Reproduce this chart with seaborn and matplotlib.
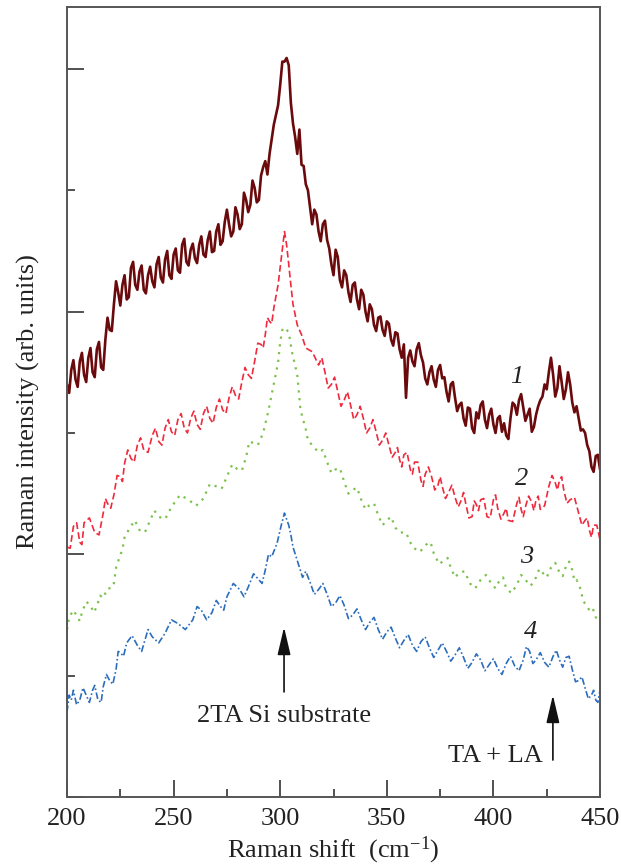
# Raman spectra, four samples, offset vertically
import numpy as np
import pandas as pd
import matplotlib
matplotlib.use("Agg")
import matplotlib.pyplot as plt
from matplotlib.ticker import MultipleLocator
import seaborn as sns

sns.set_style("ticks")
plt.rcParams['font.family'] = ['Liberation Serif', 'DejaVu Serif']
plt.rcParams['mathtext.fontset'] = 'custom'
plt.rcParams['mathtext.rm'] = 'Liberation Serif'
plt.rcParams['mathtext.it'] = 'Liberation Serif:italic'

# curve 1 (solid) - main readings
x1 = [200, 202, 204, 206, 208, 210, 212, 214, 216, 218, 220, 222, 224, 226, 228, 230, 232, 234, 236, 238,
      240, 242, 244, 246, 248, 250, 252, 254, 256, 258, 260, 262, 264, 266, 268, 270, 272, 274, 276, 278,
      280, 282, 284, 286, 288, 290, 292, 294, 296, 298, 300, 301, 302, 303, 304, 305, 307, 309, 310, 312,
      314, 316, 318, 320, 322, 324, 326, 328, 330, 332, 334, 336, 338, 340, 342, 344, 346, 348, 350, 352,
      354, 356, 358, 359, 360, 362, 364, 366, 368, 370, 372, 374, 376, 378, 380, 382, 384, 386, 388, 390,
      392, 394, 396, 398, 400, 402, 404, 406, 408, 410, 412, 414, 416, 418, 420, 422, 424, 426, 428, 430,
      432, 434, 436, 438, 440, 442, 444, 446, 448, 450]
y1 = [3.40, 3.52, 3.44, 3.59, 3.48, 3.62, 3.50, 3.69, 3.54, 3.77, 3.85, 4.06, 4.16, 4.22, 4.10, 4.36, 4.22, 4.33, 4.18, 4.30,
      4.25, 4.39, 4.28, 4.43, 4.30, 4.47, 4.34, 4.55, 4.41, 4.51, 4.44, 4.55, 4.47, 4.59, 4.49, 4.66, 4.55, 4.74, 4.72, 4.66,
      4.80, 4.72, 4.92, 4.88, 5.02, 4.92, 5.19, 5.13, 5.42, 5.62, 5.87, 6.06, 6.06, 6.09, 6.03, 5.72, 5.44, 5.50, 5.21, 5.05,
      4.86, 4.84, 4.66, 4.72, 4.59, 4.39, 4.51, 4.26, 4.34, 4.16, 4.22, 4.10, 4.18, 4.00, 4.06, 3.89, 3.95, 3.85, 3.92, 3.77,
      3.83, 3.69, 3.73, 3.29, 3.62, 3.59, 3.69, 3.64, 3.45, 3.50, 3.44, 3.52, 3.45, 3.34, 3.40, 3.29, 3.23, 3.12, 3.21, 3.04,
      3.17, 3.23, 3.11, 3.15, 3.07, 3.12, 3.01, 2.98, 3.12, 3.23, 3.27, 3.21, 3.15, 3.01, 3.15, 3.27, 3.40, 3.50, 3.48, 3.37,
      3.42, 3.36, 3.40, 3.17, 3.12, 3.03, 2.90, 2.72, 2.81, 2.70]
# curve 1 - in-between readings (noise)
x1b = [201, 203, 205, 207, 209, 211, 213, 215, 217, 219, 221, 223, 225, 227, 229, 231, 233, 235, 237, 239,
       241, 243, 245, 247, 249, 251, 253, 255, 257, 259, 261, 263, 265, 267, 269, 271, 273, 275, 277, 279,
       281, 283, 285, 287, 289, 291, 293, 295, 297, 299, 306, 308, 311, 313, 315, 317, 319, 321, 323, 325,
       327, 329, 331, 333, 335, 337, 339, 341, 343, 345, 347, 349, 351, 353, 355, 357, 361, 363, 365, 367,
       369, 371, 373, 375, 377, 379, 381, 383, 385, 387, 389, 391, 393, 395, 397, 399, 401, 403, 405, 407,
       409, 411, 413, 415, 417, 419, 421, 423, 425, 427, 429, 431, 433, 435, 437, 439, 441, 443, 445, 447, 449]
y1b = [3.33, 3.60, 3.38, 3.66, 3.42, 3.70, 3.46, 3.75, 3.52, 3.95, 3.84, 4.25, 4.05, 4.30, 4.12, 4.41, 4.18, 4.38, 4.15, 4.37,
       4.20, 4.45, 4.24, 4.50, 4.27, 4.52, 4.32, 4.60, 4.38, 4.56, 4.40, 4.62, 4.45, 4.66, 4.50, 4.72, 4.58, 4.84, 4.62, 4.86,
       4.68, 4.98, 4.82, 5.08, 4.90, 5.12, 5.24, 5.30, 5.54, 5.70, 5.55, 5.30, 5.20, 5.00, 4.72, 4.80, 4.58, 4.75, 4.52, 4.30,
       4.45, 4.20, 4.30, 4.08, 4.24, 4.02, 4.14, 3.92, 4.02, 3.84, 3.96, 3.80, 3.90, 3.72, 3.82, 3.62, 3.68, 3.55, 3.74, 3.58,
       3.40, 3.55, 3.38, 3.56, 3.46, 3.26, 3.42, 3.18, 3.25, 3.06, 3.20, 3.00, 3.12, 3.26, 3.04, 3.20, 3.00, 3.14, 3.08, 2.95,
       3.25, 3.15, 3.32, 3.10, 3.20, 3.05, 3.22, 3.30, 3.36, 3.62, 3.30, 3.55, 3.28, 3.50, 3.25, 3.22, 3.02, 3.00, 2.85, 2.68, 2.82]

# curve 2 (dashed)
x2 = [200, 203, 206, 208, 213, 217, 219, 222, 225, 227, 230, 233, 236, 240, 243, 246, 249, 252, 255, 258,
      261, 264, 267, 270, 273, 276, 279, 282, 285, 288, 291, 293, 295, 297, 299, 300.5, 302, 303, 304, 305,
      306, 308, 310, 312, 315, 318, 321, 324, 327, 330, 333, 336, 339, 342, 345, 348, 351, 354, 356, 358,
      361, 363, 366, 368, 371, 374, 376, 379, 382, 385, 387, 390, 392, 394, 397, 400, 402, 405, 407, 411,
      413, 415, 418, 420, 422, 426, 429, 431, 433, 436, 440, 443, 445, 447, 450]
y2 = [2.06, 2.23, 2.10, 2.26, 2.18, 2.34, 2.42, 2.49, 2.64, 2.75, 2.79, 2.90, 2.86, 2.98, 2.93, 3.04, 3.01, 3.11, 3.04, 3.12,
      3.07, 3.16, 3.12, 3.21, 3.19, 3.29, 3.31, 3.42, 3.48, 3.59, 3.73, 3.81, 3.92, 4.03, 4.22, 4.44, 4.66, 4.55, 4.39, 4.22,
      4.06, 3.89, 3.81, 3.70, 3.67, 3.56, 3.50, 3.40, 3.34, 3.27, 3.23, 3.15, 3.12, 3.04, 3.01, 2.94, 2.90, 2.84, 2.78, 2.82,
      2.70, 2.76, 2.61, 2.66, 2.64, 2.57, 2.56, 2.51, 2.47, 2.45, 2.42, 2.31, 2.41, 2.45, 2.31, 2.45, 2.38, 2.34, 2.28, 2.42,
      2.37, 2.39, 2.43, 2.45, 2.37, 2.56, 2.59, 2.61, 2.53, 2.45, 2.34, 2.28, 2.20, 2.24, 2.12]
x2b = [201.5, 204.5, 207, 210.5, 215, 218, 220.5, 223.5, 226, 228.5, 231.5, 234.5, 238, 241.5, 244.5, 247.5, 250.5, 253.5,
       256.5, 259.5, 262.5, 265.5, 268.5, 271.5, 274.5, 277.5, 280.5, 283.5, 286.5, 289.5, 292, 294, 296,
       319.5, 322.5, 325.5, 328.5, 331.5, 334.5, 337.5, 340.5, 343.5, 346.5, 349.5, 352.5, 355, 357, 359.5, 362,
       364.5, 367, 369.5, 372.5, 375, 377.5, 380.5, 383.5, 386, 388.5, 391, 393, 395.5, 398.5, 401, 403.5, 406,
       409, 412, 414, 416.5, 419, 421, 424, 427.5, 430, 432, 434.5, 438, 441.5, 444, 446, 448.5]
y2b = [2.05, 2.26, 2.08, 2.30, 2.16, 2.46, 2.38, 2.65, 2.60, 2.86, 2.76, 2.96, 2.84, 3.04, 2.90, 3.11, 2.98, 3.16,
       3.00, 3.18, 3.03, 3.22, 3.08, 3.28, 3.16, 3.38, 3.28, 3.54, 3.45, 3.74, 3.70, 3.95, 3.90,
       3.62, 3.37, 3.46, 3.22, 3.34, 3.11, 3.22, 3.00, 3.11, 2.90, 3.00, 2.80, 2.88, 2.72, 2.84, 2.66,
       2.76, 2.56, 2.72, 2.53, 2.64, 2.46, 2.57, 2.39, 2.51, 2.30, 2.44, 2.36, 2.46, 2.30, 2.49, 2.29, 2.38,
       2.27, 2.47, 2.31, 2.48, 2.36, 2.48, 2.40, 2.65, 2.53, 2.64, 2.42, 2.47, 2.24, 2.30, 2.14, 2.24]

# curve 3 (dotted)
x3 = [200, 201, 205, 207, 211, 214, 217, 219, 220.5, 223, 224.5, 226, 227, 229.5, 234, 239, 243, 249, 257, 264,
      270, 275, 280, 284, 287, 292, 294.3, 296.5, 299, 300, 301, 302, 304, 305.5, 308, 309.5, 312, 313, 318, 322,
      326, 330, 334, 338, 342, 346, 350, 354, 356, 362, 369, 372, 377, 380, 384, 389, 394, 399, 403, 406,
      411, 415, 420, 423, 427, 431, 434, 437, 439, 441, 442, 445, 448, 450]
y3 = [1.38, 1.48, 1.48, 1.52, 1.58, 1.57, 1.64, 1.72, 1.72, 1.89, 1.97, 2.04, 2.14, 2.22, 2.20, 2.28, 2.31, 2.39, 2.45, 2.46,
      2.56, 2.64, 2.70, 2.80, 2.92, 3.00, 3.17, 3.36, 3.58, 3.75, 3.85, 3.87, 3.83, 3.67, 3.48, 3.19, 3.03, 2.94, 2.84, 2.76,
      2.70, 2.60, 2.53, 2.45, 2.41, 2.32, 2.28, 2.22, 2.18, 2.06, 2.09, 2.01, 1.95, 1.89, 1.85, 1.76, 1.79, 1.76, 1.79, 1.72,
      1.75, 1.79, 1.81, 1.85, 1.89, 1.85, 1.90, 1.87, 1.79, 1.71, 1.62, 1.54, 1.48, 1.46]
x3b = [203, 206, 209, 212.5, 215.5, 221.8, 231.8, 236.5, 241, 246, 253, 260.5, 267, 272.5, 277.5, 282, 285.5, 289.5,
       320, 324, 328, 332, 336, 340, 344, 348, 352, 359, 365.5, 370.5, 374.5, 378.5, 382, 386.5, 391.5, 396.5,
       401, 404.5, 408.5, 413, 417.5, 421.5, 425, 429, 432.5, 435.5, 438, 446.5]
y3b = [1.54, 1.45, 1.61, 1.52, 1.66, 1.74, 2.28, 2.18, 2.36, 2.29, 2.49, 2.40, 2.58, 2.54, 2.74, 2.69, 2.93, 2.90,
       2.86, 2.67, 2.71, 2.50, 2.55, 2.37, 2.42, 2.24, 2.31, 2.18, 2.02, 2.10, 1.92, 1.97, 1.81, 1.86, 1.72, 1.83,
       1.72, 1.81, 1.68, 1.83, 1.74, 1.88, 1.81, 1.93, 1.82, 1.94, 1.78, 1.56]

# curve 4 (dash-dot)
x4 = [200, 202, 203, 206, 209, 212, 214.5, 217, 220, 223, 225, 228, 233, 236.5, 240, 246, 252, 259, 263, 268,
      272, 275, 281, 285, 290, 293, 296, 298.5, 300.5, 302, 304, 305, 306, 308, 310.5, 314, 318, 322, 326, 330,
      334, 338, 342, 346, 350, 354, 358, 362, 366, 370, 374, 378, 382, 386, 390, 394, 398, 402, 406, 410,
      414, 417, 420, 424, 428, 431, 434, 437, 440, 443, 446, 448, 450]
y4 = [0.70, 0.80, 0.88, 0.80, 0.84, 0.88, 0.80, 0.91, 0.96, 1.05, 1.19, 1.27, 1.25, 1.29, 1.32, 1.35, 1.43, 1.46, 1.54, 1.52,
      1.57, 1.65, 1.71, 1.73, 1.79, 1.87, 1.98, 2.09, 2.24, 2.34, 2.24, 2.16, 2.06, 1.95, 1.81, 1.77, 1.71, 1.67, 1.60, 1.58,
      1.50, 1.46, 1.44, 1.38, 1.36, 1.31, 1.29, 1.25, 1.28, 1.23, 1.21, 1.20, 1.17, 1.15, 1.11, 1.13, 1.09, 1.06, 1.10, 1.08,
      1.13, 1.20, 1.13, 1.11, 1.16, 1.13, 1.15, 1.05, 0.96, 0.90, 0.84, 0.80, 0.88]
x4b = [201, 204.5, 207.5, 210.5, 213, 216, 218.5, 221.5, 224, 226.5, 230.5, 235, 238, 243, 249, 255.5, 261, 265.5, 270,
       273.5, 278, 283, 287.5, 291.5, 294.5, 312, 316, 320, 324, 328, 332, 336, 340, 344, 348, 352, 356, 360, 364,
       368, 372, 376, 380, 384, 388, 392, 396, 400, 404, 408, 412, 415.5, 418.5, 422, 426, 429.5, 432.5, 435.5,
       438.5, 441.5, 444.5, 447, 449]
y4b = [0.84, 0.76, 0.90, 0.78, 0.92, 0.78, 1.01, 0.93, 1.20, 1.16, 1.33, 1.20, 1.38, 1.27, 1.46, 1.38, 1.57, 1.46, 1.62,
       1.54, 1.76, 1.65, 1.84, 1.76, 2.00, 1.86, 1.67, 1.76, 1.57, 1.66, 1.47, 1.55, 1.38, 1.48, 1.30, 1.40, 1.23, 1.34, 1.20,
       1.32, 1.15, 1.27, 1.12, 1.23, 1.06, 1.18, 1.04, 1.14, 1.01, 1.16, 1.04, 1.24, 1.10, 1.19, 1.07, 1.21, 1.07, 1.16,
       0.95, 0.99, 0.81, 0.88, 0.78]

curve_labels = ['1', '2', '3', '4']
colors = ['#6b0a0c', '#ee2a3c', '#7cc14c', '#2b6dbd']

fig = plt.figure(figsize=(6.21, 8.67), dpi=100)
ax = fig.add_axes([0.1079, 0.0807, 0.8583, 0.9112])

styles = [dict(lw=1.9, ls='-'),
          dict(lw=1.2, ls=(0, (4, 2))),
          dict(lw=1.6, ls=(0, (1, 2.5))),
          dict(lw=1.2, ls=(0, (4, 1.5, 1, 1.5)))]
series = [(x1 + x1b, y1 + y1b), (x2 + x2b, y2 + y2b), (x3 + x3b, y3 + y3b), (x4 + x4b, y4 + y4b)]
for (xs, ys), c, st in zip(series, colors, styles):
    df = pd.DataFrame({'shift': xs, 'intensity': ys}).sort_values('shift')
    sns.lineplot(data=df, x='shift', y='intensity', color=c, estimator=None,
                 linewidth=st['lw'], linestyle=st['ls'], ax=ax)

# curve numbers
lab_pos = [(411.0, 3.41), (413.4, 2.57), (415.8, 1.93), (417.2, 1.31)]
for lab, (lx, ly) in zip(curve_labels, lab_pos):
    ax.text(lx, ly, lab, fontsize=19, style='italic', ha='center', va='baseline', color='#222222')

# arrows marking phonon features
arr = dict(arrowstyle='-|>,head_length=0.85,head_width=0.2', color='#111111', lw=1.2,
           mutation_scale=20, shrinkA=0, shrinkB=0)
ax.annotate('', xy=(301.8, 1.40), xytext=(301.8, 0.866), arrowprops=arr)
ax.text(302.0, 0.618, '2TA Si substrate', fontsize=19, ha='center', va='baseline', color='#222222')
ax.annotate('', xy=(427.9, 0.84), xytext=(427.9, 0.305), arrowprops=arr)
ax.text(400.8, 0.289, 'TA + LA', fontsize=19, ha='center', va='baseline', color='#222222')

ax.set_xlim(200, 450)
ax.set_ylim(0, 6.51)
ax.xaxis.set_major_locator(MultipleLocator(50))
ax.xaxis.set_minor_locator(MultipleLocator(25))
ax.yaxis.set_major_locator(MultipleLocator(2))
ax.yaxis.set_minor_locator(MultipleLocator(1))
ax.set_yticklabels([])
ax.tick_params(which='major', direction='in', length=12, width=1.2, color='#333333',
               labelsize=19, labelcolor='#222222', pad=8)
ax.tick_params(which='minor', direction='in', length=6, width=1.2, color='#333333')
for sp in ax.spines.values():
    sp.set_color('#555555')
    sp.set_linewidth(1.4)

ax.set_xlabel(r'Raman shift  (cm$^{-1}$)', fontsize=19, color='#222222')
ax.set_ylabel('Raman intensity (arb. units)', fontsize=19, color='#222222')
ax.xaxis.set_label_coords(0.5, -0.048)
ax.yaxis.set_label_coords(-0.05, 0.5)

fig.savefig('out.png', dpi=100)
